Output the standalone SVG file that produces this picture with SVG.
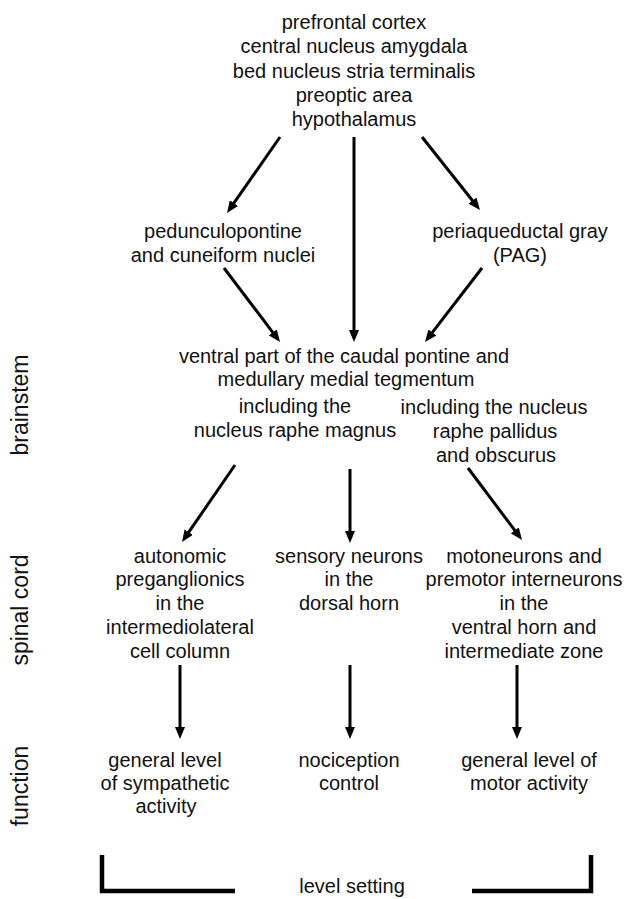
<svg xmlns="http://www.w3.org/2000/svg" width="627" height="899" viewBox="0 0 627 899">
  <style>
    text { font-family: "Liberation Sans", Arial, Helvetica, sans-serif; font-size: 20px; fill: #111; text-anchor: middle; }
    .side { font-size: 23px; }
    .arrow { stroke: #000; stroke-width: 3; fill: none; marker-end: url(#head); }
    .bracket { stroke: #000; stroke-width: 4.5; fill: none; }
  </style>
  <defs>
    <marker id="head" markerUnits="userSpaceOnUse" markerWidth="12" markerHeight="10" refX="4" refY="5" orient="auto">
      <path d="M0,0 L12,5 L0,10 Z" fill="#000"/>
    </marker>
  </defs>

  <rect width="627" height="899" fill="#fff"/>

  <!-- level labels on the left -->
  <g id="side-labels">
    <text class="side" transform="translate(28,405) rotate(-90)">brainstem</text>
    <text class="side" transform="translate(28,610) rotate(-90)">spinal cord</text>
    <text class="side" transform="translate(28,786) rotate(-90)">function</text>
  </g>

  <g id="forebrain">
    <text x="354" y="29">prefrontal cortex</text>
    <text x="354" y="53">central nucleus amygdala</text>
    <text x="354" y="78">bed nucleus stria terminalis</text>
    <text x="354" y="102">preoptic area</text>
    <text x="354" y="126">hypothalamus</text>
  </g>

  <g id="pedunculopontine">
    <text x="223" y="238">pedunculopontine</text>
    <text x="223" y="262">and cuneiform nuclei</text>
  </g>

  <g id="pag">
    <text x="520" y="238">periaqueductal gray</text>
    <text x="520" y="262">(PAG)</text>
  </g>

  <g id="medial-tegmentum">
    <text x="344" y="363">ventral part of the caudal pontine and</text>
    <text x="346" y="386">medullary medial tegmentum</text>
  </g>

  <g id="raphe-magnus">
    <text x="295" y="413">including the</text>
    <text x="295" y="437">nucleus raphe magnus</text>
  </g>

  <g id="raphe-pallidus">
    <text x="494" y="414">including the nucleus</text>
    <text x="495" y="438">raphe pallidus</text>
    <text x="496" y="462">and obscurus</text>
  </g>

  <g id="autonomic">
    <text x="180" y="563">autonomic</text>
    <text x="180" y="586">preganglionics</text>
    <text x="180" y="610">in the</text>
    <text x="180" y="634">intermediolateral</text>
    <text x="180" y="658">cell column</text>
  </g>

  <g id="sensory">
    <text x="349" y="563">sensory neurons</text>
    <text x="349" y="586">in the</text>
    <text x="349" y="610">dorsal horn</text>
  </g>

  <g id="motor">
    <text x="524" y="563">motoneurons and</text>
    <text x="524" y="586">premotor interneurons</text>
    <text x="524" y="610">in the</text>
    <text x="524" y="634">ventral horn and</text>
    <text x="524" y="658">intermediate zone</text>
  </g>

  <g id="sympathetic-level">
    <text x="165" y="767">general level</text>
    <text x="165" y="790">of sympathetic</text>
    <text x="166" y="813">activity</text>
  </g>

  <g id="nociception">
    <text x="349" y="767">nociception</text>
    <text x="349" y="790">control</text>
  </g>

  <g id="motor-level">
    <text x="529" y="767">general level of</text>
    <text x="529" y="790">motor activity</text>
  </g>

  <g id="level-setting">
    <path class="bracket" d="M102,855 V891 H235"/>
    <path class="bracket" d="M472,891 H591 V855"/>
    <text x="352" y="893">level setting</text>
  </g>

  <g id="connectors">
    <line class="arrow" x1="280" y1="137" x2="231.6" y2="206.4"/>
    <line class="arrow" x1="354" y1="137" x2="354" y2="334"/>
    <line class="arrow" x1="422" y1="137" x2="475" y2="203.7"/>
    <line class="arrow" x1="224" y1="268" x2="275.2" y2="335.6"/>
    <line class="arrow" x1="482" y1="268" x2="429.9" y2="335.7"/>
    <line class="arrow" x1="235" y1="465" x2="186.5" y2="535.4"/>
    <line class="arrow" x1="350" y1="469" x2="350" y2="535"/>
    <line class="arrow" x1="468" y1="468" x2="517.2" y2="533.6"/>
    <line class="arrow" x1="180" y1="665" x2="180" y2="731"/>
    <line class="arrow" x1="350" y1="665" x2="350" y2="731"/>
    <line class="arrow" x1="517" y1="665" x2="517" y2="731"/>
  </g>
</svg>
